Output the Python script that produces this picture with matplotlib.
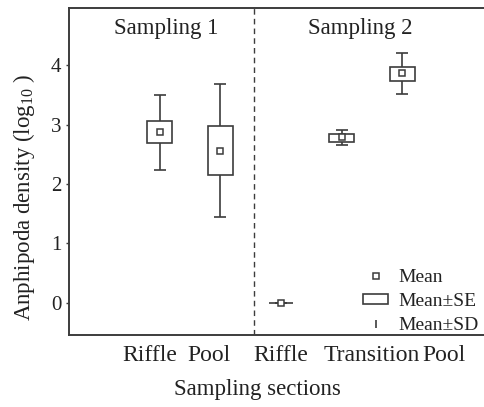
import matplotlib
matplotlib.use("Agg")
import matplotlib.pyplot as plt
from matplotlib.lines import Line2D
from matplotlib.patches import Rectangle

plt.rcParams['font.family'] = ['Liberation Serif', 'DejaVu Serif']
plt.rcParams['mathtext.fontset'] = 'custom'
plt.rcParams['mathtext.rm'] = 'Liberation Serif'

categories = ["Riffle", "Pool", "Riffle", "Transition", "Pool"]
positions = [1, 2, 3, 4, 5]
mean = [2.87, 2.56, 0.00, 2.79, 3.86]
se_low = [2.69, 2.15, 0.00, 2.70, 3.74]
se_high = [3.06, 2.97, 0.00, 2.84, 3.96]
sd_low = [2.24, 1.45, 0.00, 2.66, 3.51]
sd_high = [3.50, 3.68, 0.00, 2.91, 4.20]
yticks = [0, 1, 2, 3, 4]
label_pos = [0.83, 1.81, 3.0, 4.49, 5.69]
divider = 2.55

col = '#3c3c3c'
tcol = '#222222'
fig = plt.figure(figsize=(4.84, 4.07), dpi=100)
ax = fig.add_axes([69/484, 1 - 335/407, 1 - 69/484, 327/407])

for p, m, sl, sh, dl, dh in zip(positions, mean, se_low, se_high, sd_low, sd_high):
    ax.errorbar([p], [m], yerr=[[m - dl], [dh - m]], fmt='none', ecolor=col,
                elinewidth=1.2, capsize=4.5, capthick=1.2, zorder=1)
    ax.bar([p], [sh - sl], bottom=[sl], width=0.41, facecolor='white',
           edgecolor=col, linewidth=1.2, zorder=2)
    ax.plot([p], [m], marker='s', markersize=4.5, markerfacecolor='white',
            markeredgecolor=col, markeredgewidth=1.1, zorder=3)

ax.axvline(divider, color=col, linestyle=(0, (4, 3)), linewidth=1.0)

ax.set_xlim(-0.5, 6.35)
ax.set_ylim(-0.54, 4.96)
ax.set_xticks(label_pos)
ax.set_xticklabels(categories, fontsize=17, color=tcol)
ax.tick_params(axis='x', length=0, pad=7)
ax.set_yticks(yticks)
ax.set_yticklabels([str(t) for t in yticks], fontsize=15, color=tcol)
ax.tick_params(axis='y', length=2.5, width=1, color=col, pad=3)
ax.spines['right'].set_visible(False)
for s in ['left', 'top', 'bottom']:
    ax.spines[s].set_color(col)
    ax.spines[s].set_linewidth(1.4)

ax.text(1.1, 4.61, "Sampling 1", ha='center', va='center', fontsize=16.5, color=tcol)
ax.text(4.3, 4.62, "Sampling 2", ha='center', va='center', fontsize=16.5, color=tcol)

fig.text(24/484, 1 - 197/407, r"Anphipoda density (log$_{10}$ )", rotation=90,
         ha='center', va='center', fontsize=16.5, color=tcol)
fig.text(257/484, 1 - 389/407, "Sampling sections", ha='center', va='center',
         fontsize=16.5, color=tcol)

handles = [
    Line2D([], [], linestyle='none', marker='s', markersize=4.5, markerfacecolor='white',
           markeredgecolor=col, markeredgewidth=1.1),
    Rectangle((0, 0), 1, 1, facecolor='white', edgecolor=col, linewidth=1.2),
    Line2D([], [], linestyle='none', marker='|', markersize=6, markeredgecolor=col,
           markeredgewidth=1.2),
]
leg = ax.legend(handles, ["Mean", "Mean\u00b1SE", "Mean\u00b1SD"], loc='lower right',
                frameon=False, fontsize=14, handlelength=1.3, handleheight=0.4,
                handletextpad=0.5, labelspacing=0.36, borderaxespad=0.0,
                bbox_to_anchor=(1.005, -0.02))
for t in leg.get_texts():
    t.set_color(tcol)

fig.savefig("out.png", dpi=100)
